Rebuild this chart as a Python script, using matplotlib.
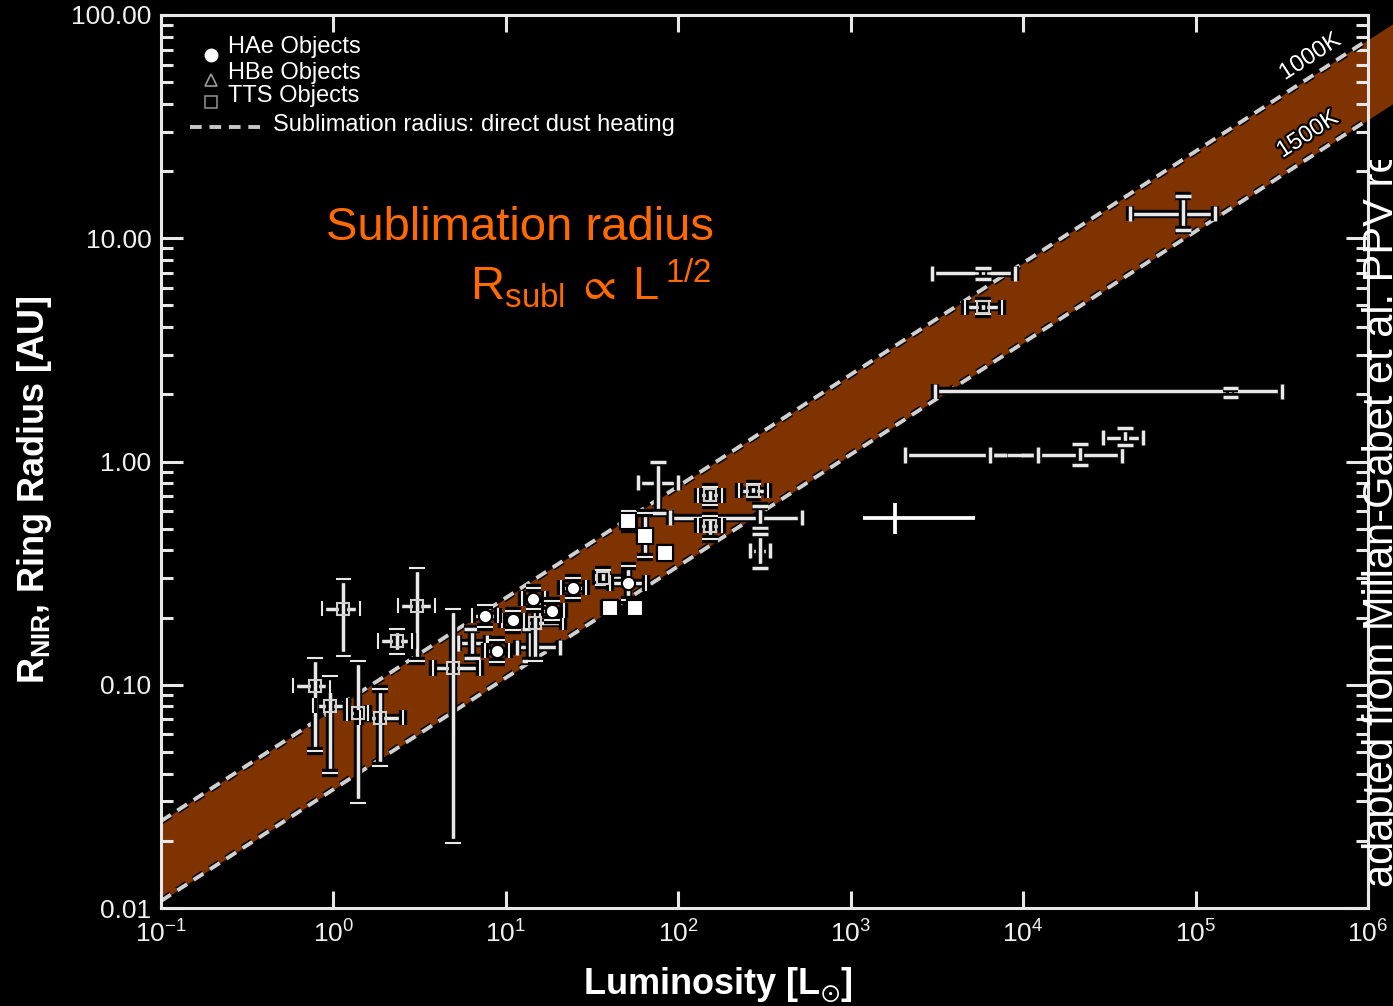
import numpy as np
import matplotlib
matplotlib.use("Agg")
import matplotlib.pyplot as plt
import matplotlib.patheffects as pe
from matplotlib.ticker import FixedLocator, FuncFormatter, NullLocator, NullFormatter, LogFormatterSciNotation
from matplotlib.transforms import Bbox, TransformedBbox

plt.rcParams['font.family'] = ['Liberation Sans', 'DejaVu Sans']
plt.rcParams['mathtext.fontset'] = 'custom'
plt.rcParams['mathtext.rm'] = 'Liberation Sans'
plt.rcParams['mathtext.it'] = 'Liberation Sans:italic'
plt.rcParams['mathtext.bf'] = 'Liberation Sans:bold'
plt.rcParams['mathtext.fallback'] = 'stixsans'

# sublimation band (R ~ L^1/2), end points of the two dashed lines
band_L = [0.1, 1.4e6]
band_R_1000K = [0.0245, 91.7]
band_R_1500K = [0.01075, 40.2]

# HAe objects (filled circles)
hae_L = [7.57, 8.89, 11.0, 14.4, 18.5, 24.5, 51.2]
hae_R = [0.204, 0.142, 0.194, 0.243, 0.215, 0.272, 0.286]
hae_Llo = [6.4, 7.6, 9.5, 12.4, 15.8, 20.8, 40.0]
hae_Lhi = [9.0, 10.4, 12.8, 16.8, 21.6, 29.0, 65.0]
hae_Rlo = [0.182, 0.127, 0.176, 0.218, 0.194, 0.245, 0.240]
hae_Rhi = [0.228, 0.159, 0.214, 0.270, 0.238, 0.302, 0.340]

# TTS objects (filled squares)
tts_L = [40.2, 51.2, 56.1, 64.2, 83.8]
tts_R = [0.221, 0.543, 0.221, 0.466, 0.391]
tts_Llo = [37.0, 48.0, 52.0, 60.0, 78.0]
tts_Lhi = [44.0, 55.0, 60.0, 69.0, 90.0]
tts_Rlo = [0.210, 0.500, 0.210, 0.372, 0.370]
tts_Rhi = [0.232, 0.600, 0.232, 0.585, 0.410]

# boxed symbols
box_L = [1.14, 3.05, 0.782, 0.955, 1.39, 1.86, 2.34, 4.94, 14.8, 36.6, 153, 153, 272, 5860]
box_R = [0.219, 0.226, 0.099, 0.0805, 0.0748, 0.0711, 0.157, 0.119, 0.190, 0.302, 0.705, 0.516, 0.741, 4.91]
box_Llo = [0.859, 2.37, 0.583, 0.762, 1.20, 1.43, 1.82, 3.78, 11.0, 33.4, 130, 130, 225, 4600]
box_Lhi = [1.43, 3.88, 0.955, 1.20, 1.59, 2.53, 2.86, 7.08, 21.5, 49.1, 180, 180, 330, 7550]
box_Rlo = [0.135, 0.128, 0.0506, 0.0403, 0.0296, 0.0434, 0.138, 0.0195, 0.128, 0.280, 0.640, 0.450, 0.690, 4.60]
box_Rhi = [0.299, 0.335, 0.132, 0.110, 0.128, 0.0959, 0.178, 0.219, 0.231, 0.325, 0.770, 0.570, 0.796, 5.25]

# error crosses without a symbol
crs_L = [6.37, 13.8, 76.4, 298, 298, 5860, 84700, 159000, 39000, 21400, 8870]
crs_R = [0.154, 0.147, 0.805, 0.561, 0.399, 6.96, 12.9, 2.06, 1.28, 1.07, 1.07]
crs_Llo = [5.28, 11.6, 58.5, 89.6, 260, 2960, 41800, 3090, 29100, 2070, 6440]
crs_Lhi = [7.78, 20.6, 99.8, 522, 340, 9000, 130000, 318000, 49700, 37500, 12200]
crs_Rlo = [0.132, 0.128, 0.590, 0.506, 0.335, 6.60, 10.9, 1.94, 1.18, 0.96, 1.07]
crs_Rhi = [0.178, 0.178, 0.990, 0.635, 0.475, 7.35, 15.4, 2.14, 1.41, 1.20, 1.07]

# added object (plain white cross)
new_L = [1810]
new_R = [0.561]
new_Llo = [1180]
new_Lhi = [5270]
new_Rlo = [0.475]
new_Rhi = [0.655]

FG = '#e8e8e8'
BROWN = '#7f3300'
ORANGE = '#ff6a00'
outline = [pe.Stroke(linewidth=6, foreground='black'), pe.Normal()]


def errs(v, lo, hi):
    v = np.array(v)
    return [v - np.array(lo), np.array(hi) - v]


def draw_group(ax, L, R, Llo, Lhi, Rlo, Rhi, **kw):
    line, caps, bars = ax.errorbar(L, R, xerr=errs(L, Llo, Lhi), yerr=errs(R, Rlo, Rhi),
                                   ecolor=FG, elinewidth=2.5, capsize=5.5, capthick=2.5,
                                   zorder=4, **kw)
    for c in caps:
        c.set_path_effects(outline)
    for b in bars:
        b.set_path_effects(outline)
    return line


fig = plt.figure(figsize=(13.93, 10.06), dpi=100, facecolor='black')
ax = fig.add_axes([161 / 1393, 98 / 1006, 1207 / 1393, 893 / 1006])
ax.set_facecolor('black')
ax.set_xscale('log')
ax.set_yscale('log')
ax.set_xlim(0.1, 1e6)
ax.set_ylim(0.01, 100)

# band
ax.fill_between(band_L, band_R_1500K, band_R_1000K, color=BROWN, lw=0, zorder=1, clip_on=False)
for r in (band_R_1000K, band_R_1500K):
    ax.plot(band_L, r, color='#d0d0d0', lw=2.8, ls=(0, (3, 2)), zorder=2,
            path_effects=[pe.Stroke(linewidth=5, foreground='black'), pe.Normal()])

draw_group(ax, crs_L, crs_R, crs_Llo, crs_Lhi, crs_Rlo, crs_Rhi, fmt='none')
draw_group(ax, box_L, box_R, box_Llo, box_Lhi, box_Rlo, box_Rhi, fmt='s', ms=8,
           mfc='none', mec='#cfcfcf', mew=1.5)
draw_group(ax, tts_L, tts_R, tts_Llo, tts_Lhi, tts_Rlo, tts_Rhi, fmt='s', ms=11,
           mfc='white', mec='black', mew=1.5)
draw_group(ax, hae_L, hae_R, hae_Llo, hae_Lhi, hae_Rlo, hae_Rhi, fmt='o', ms=9.5,
           mfc='white', mec='black', mew=1.5)

ax.errorbar(new_L, new_R, xerr=errs(new_L, new_Llo, new_Lhi), yerr=errs(new_R, new_Rlo, new_Rhi),
            fmt='none', ecolor='white', elinewidth=2.7, capsize=0, zorder=5)

# axes styling
for s in ax.spines.values():
    s.set_color(FG)
    s.set_linewidth(2.2)
    s.set_zorder(6)
ax.xaxis.set_major_locator(FixedLocator([10.0 ** k for k in range(-1, 7)]))
ax.xaxis.set_major_formatter(LogFormatterSciNotation())
ax.xaxis.set_minor_locator(NullLocator())
ax.yaxis.set_major_locator(FixedLocator([0.01, 0.1, 1, 10, 100]))
ax.yaxis.set_major_formatter(FuncFormatter(lambda v, p: f'{v:.2f}'))
ax.yaxis.set_minor_formatter(NullFormatter())
ax.tick_params(which='both', direction='in', top=True, right=True, colors=FG, width=2.2,
               labelsize=19, labelcolor='#f0f0f0')
ax.tick_params(axis='x', which='major', length=12, pad=9)
ax.tick_params(axis='y', which='major', length=16, pad=7)
ax.tick_params(axis='y', which='minor', length=8.5)

# legend
tA = ax.transAxes
ax.plot([0.0414], [0.955], transform=tA, marker='o', ms=9, color='white', ls='none')
ax.plot([0.0414], [0.927], transform=tA, marker='^', ms=8, mfc='none', mec='#9a9a9a', mew=1.2, ls='none')
ax.plot([0.0414], [0.9026], transform=tA, marker='s', ms=8, mfc='none', mec='#8a8a8a', mew=1.2, ls='none')
ax.plot([0.024, 0.0862], [0.8746, 0.8746], transform=tA, color='#c8c8c8', lw=2.8, ls=(0, (3, 2)))
for yy, s in [(0.964, 'HAe Objects'), (0.935, 'HBe Objects'), (0.909, 'TTS Objects')]:
    ax.text(0.0555, yy, s, transform=tA, color='white', fontsize=17, ha='left', va='center')
ax.text(0.0928, 0.8768, 'Sublimation radius: direct dust heating', transform=tA, color='white',
        fontsize=17, ha='left', va='center')

# band labels
for xx, yy, s in [(0.952, 0.953, '1000K'), (0.950, 0.866, '1500K')]:
    ax.text(xx, yy, s, transform=tA, color='white', fontsize=17, rotation=33,
            rotation_mode='anchor', ha='center', va='center', zorder=7,
            path_effects=[pe.Stroke(linewidth=3, foreground='black'), pe.Normal()])

# axis labels
fig.text(718 / 1393, 1 - 985 / 1006, r'Luminosity [L$_{\odot}$]', color='white', fontsize=26,
         fontweight='bold', ha='center', va='center')
fig.text(35 / 1393, 1 - 490 / 1006, r'R$_{\mathbf{NIR}}$, Ring Radius [AU]', color='white',
         fontsize=26, fontweight='bold', rotation=90, ha='center', va='center')

# orange annotation
fig.text(520 / 1393, 1 - 228 / 1006, 'Sublimation radius', color=ORANGE, fontsize=34,
         ha='center', va='center')
fig.text(470 / 1393, 1 - 300 / 1006, r'R$_{\mathregular{subl}}\:\propto\:$L$\,^{\mathregular{1/2}}$',
         color=ORANGE, fontsize=34, ha='left', va='baseline')

# credit, cut at the figure edge
cred = fig.text(1362 / 1393, 1 - 887 / 1006, 'adapted from Millan-Gabet et al. PPV review',
                color='white', fontsize=30, rotation=90, ha='left', va='bottom')
cred.set_clip_box(TransformedBbox(Bbox([[0, 0], [1, 1 - 160 / 1006]]), fig.transFigure))
cred.set_clip_on(True)

fig.savefig('out.png', dpi=100, facecolor='black')
